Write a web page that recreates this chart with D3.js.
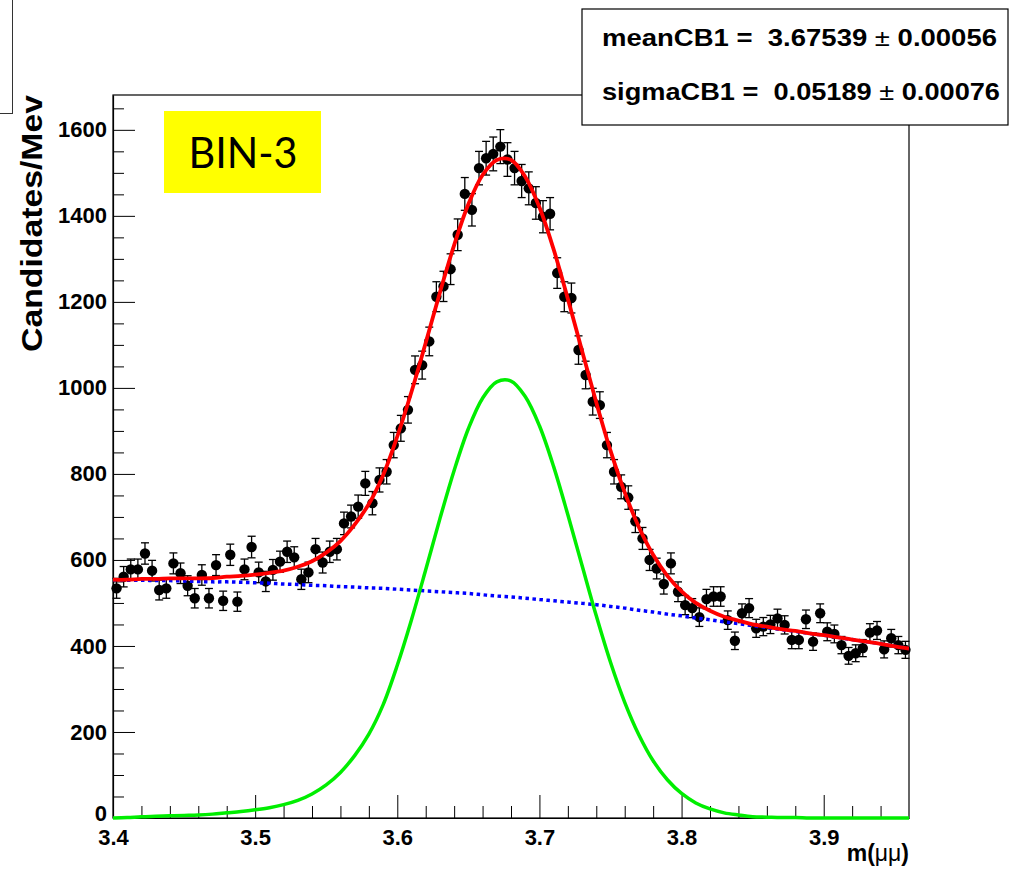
<!DOCTYPE html>
<html>
<head>
<meta charset="utf-8">
<script src="https://cdn.jsdelivr.net/npm/d3@7"></script>
<style>
  body { margin: 0; background: #fff; }
  svg { display: block; }
</style>
</head>
<body>
<svg id="chart" width="1028" height="879"></svg>
<script>
// histogram: 112 bins of 5 MeV, 3.40 .. 3.96
const binLow = 3.40;
const binWidth = 0.005;
const counts = [
  534, 561, 578, 578, 615, 575, 530, 534, 592, 569,
  540, 511, 565, 511, 588, 505, 612, 503, 578, 630,
  571, 550, 577, 596, 619, 606, 555, 571, 625, 594,
  619, 625, 685, 701, 724, 778, 732, 786, 805, 867,
  906, 949, 1042, 1053, 1108, 1212, 1236, 1276, 1356, 1451,
  1414, 1511, 1534, 1544, 1561, 1531, 1511, 1481, 1464, 1430,
  1398, 1405, 1267, 1212, 1209, 1088, 1030, 968, 960, 867,
  805, 770, 745, 690, 650, 600, 580, 544, 592, 526,
  495, 488, 467, 509, 515, 515, 460, 412, 476, 488,
  441, 445, 450, 464, 449, 414, 414, 462, 410, 476,
  433, 428, 402, 377, 383, 395, 431, 436, 392, 418,
  402, 391
];

// fit curves every 0.01 from 3.40 to 3.96
const curveStart = 3.40;
const curveStep = 0.01;
const totalFit = [
  554, 554, 556, 556, 557, 557, 557, 558, 561, 563,
  566, 570, 575, 584, 597, 617, 644, 682, 730, 797,
  887, 991, 1105, 1222, 1332, 1427, 1495, 1530, 1530, 1491,
  1420, 1322, 1207, 1086, 966, 854, 757, 676, 612, 563,
  527, 500, 482, 468, 459, 450, 445, 439, 435, 429,
  425, 420, 415, 410, 405, 399, 394
];
const signalFit = [
  0, 1, 3, 4, 5, 6, 7, 9, 12, 15,
  19, 24, 31, 41, 56, 77, 106, 145, 195, 263,
  355, 461, 577, 696, 808, 905, 976, 1014, 1016, 980,
  912, 817, 705, 587, 470, 362, 269, 193, 133, 89,
  57, 35, 21, 12, 7, 3, 2, 1, 1, 0,
  0, 0, 0, 0, 0, 0, 0
];
const bkgFit = [
  554, 553, 553, 552, 552, 551, 550, 549, 549, 548,
  547, 546, 544, 543, 541, 540, 538, 537, 535, 534,
  532, 530, 528, 526, 524, 522, 519, 516, 514, 511,
  508, 505, 502, 499, 496, 492, 488, 483, 479, 474,
  470, 465, 461, 456, 452, 447, 443, 438, 434, 429,
  425, 420, 415, 410, 405, 399, 394
];

const xTicks = [3.4, 3.5, 3.6, 3.7, 3.8, 3.9];
const yTicks = [0, 200, 400, 600, 800, 1000, 1200, 1400, 1600];
const statNames = ["meanCB1 =  ", "sigmaCB1 =  "];
const statValues = ["3.67539", "0.05189"];
const statErrors = ["0.00056", "0.00076"];

const svg = d3.select("#chart");
const frame = { left: 113, right: 909, top: 95, bottom: 818 };
const font = "'Liberation Sans', Arial, Helvetica, sans-serif";

const x = d3.scaleLinear().domain([3.40, 3.96]).range([frame.left, frame.right]);
const y = d3.scaleLinear().domain([0, 1681]).range([frame.bottom, frame.top]);

// cut-off pad in the top-left corner
svg.append("rect")
  .attr("x", -5).attr("y", -5).attr("width", 17.5).attr("height", 118.5)
  .attr("fill", "none").attr("stroke", "#333").attr("stroke-width", 1);

// frame
svg.append("rect")
  .attr("x", frame.left).attr("y", frame.top)
  .attr("width", frame.right - frame.left).attr("height", frame.bottom - frame.top)
  .attr("fill", "none").attr("stroke", "#000").attr("stroke-width", 1.2);

// y axis: major + minor ticks pointing inside
const yMinor = d3.range(0, 1681, 50).filter((v) => v % 200 !== 0);
svg.append("g")
  .attr("transform", `translate(${frame.left},0)`)
  .call(d3.axisLeft(y).tickValues(yMinor).tickSizeInner(-11).tickSizeOuter(0).tickFormat(""))
  .call((g) => g.select(".domain").remove());
const yAxis = svg.append("g")
  .attr("transform", `translate(${frame.left},0)`)
  .call(d3.axisLeft(y).tickValues(yTicks).tickSizeInner(-22).tickSizeOuter(0)
    .tickPadding(6).tickFormat(d3.format("d")));
yAxis.select(".domain").attr("stroke-width", 1.2);
yAxis.selectAll("text")
  .style("font-family", font).style("font-weight", "bold").style("font-size", "22px")
  .attr("fill", "#000");
// the zero label sits a little high, as in the original
yAxis.selectAll("text").filter((d) => d === 0).attr("dy", "0.1em");

// x axis
const xMinor = d3.range(0, 28).map((i) => 3.40 + 0.02 * i).filter((v, i) => i % 5 !== 0);
svg.append("g")
  .attr("transform", `translate(0,${frame.bottom})`)
  .call(d3.axisBottom(x).tickValues(xMinor).tickSizeInner(-12).tickSizeOuter(0).tickFormat(""))
  .call((g) => g.select(".domain").remove());
const xAxis = svg.append("g")
  .attr("transform", `translate(0,${frame.bottom})`)
  .call(d3.axisBottom(x).tickValues(xTicks).tickSizeInner(-23).tickSizeOuter(0)
    .tickPadding(6).tickFormat(d3.format(".1f")));
xAxis.select(".domain").attr("stroke-width", 1.2);
xAxis.selectAll("text")
  .style("font-family", font).style("font-weight", "bold").style("font-size", "22px")
  .attr("fill", "#000").attr("dy", "0.95em");

// axis titles
svg.append("text")
  .attr("transform", `translate(42,${frame.top}) rotate(-90)`)
  .attr("text-anchor", "end")
  .attr("textLength", 257).attr("lengthAdjust", "spacingAndGlyphs")
  .style("font-family", font).style("font-weight", "bold").style("font-size", "30px")
  .text("Candidates/Mev");

const xt = svg.append("text")
  .attr("x", frame.right).attr("y", 861)
  .attr("text-anchor", "end")
  .style("font-family", font).style("font-size", "23px");
xt.append("tspan").style("font-weight", "bold").text("m(");
xt.append("tspan").text("μμ");
xt.append("tspan").style("font-weight", "bold").text(")");

// data points with error bars
const bins = counts.map((c, i) => ({ x: binLow + binWidth * (i + 0.5), n: c, e: Math.sqrt(c) }));
const pts = svg.append("g");
pts.selectAll("line.bar").data(bins).join("line")
  .attr("class", "bar")
  .attr("x1", (d) => x(d.x)).attr("x2", (d) => x(d.x))
  .attr("y1", (d) => y(d.n - d.e)).attr("y2", (d) => y(d.n + d.e))
  .attr("stroke", "#000").attr("stroke-width", 1.3);
[-1, 1].forEach((s) => {
  pts.selectAll("line.cap" + (s + 1)).data(bins).join("line")
    .attr("class", "cap" + (s + 1))
    .attr("x1", (d) => x(d.x) - 4).attr("x2", (d) => x(d.x) + 4)
    .attr("y1", (d) => y(d.n + s * d.e)).attr("y2", (d) => y(d.n + s * d.e))
    .attr("stroke", "#000").attr("stroke-width", 1.3);
});
pts.selectAll("circle").data(bins).join("circle")
  .attr("cx", (d) => x(d.x)).attr("cy", (d) => y(d.n)).attr("r", 5.2)
  .attr("fill", "#000");

// fit curves
svg.append("clipPath").attr("id", "frameClip")
  .append("rect").attr("x", frame.left).attr("y", frame.top - 2)
  .attr("width", frame.right - frame.left).attr("height", frame.bottom - frame.top + 4);
const line = d3.line()
  .x((d, i) => x(curveStart + curveStep * i))
  .y((d) => y(d))
  .curve(d3.curveCatmullRom);
const curves = svg.append("g").attr("clip-path", "url(#frameClip)");
curves.append("path").attr("d", line(bkgFit))
  .attr("fill", "none").attr("stroke", "#0000ff").attr("stroke-width", 3.5)
  .attr("stroke-dasharray", "3.5,3.5");
curves.append("path").attr("d", line(signalFit))
  .attr("fill", "none").attr("stroke", "#00ee00").attr("stroke-width", 3.5);
curves.append("path").attr("d", line(totalFit))
  .attr("fill", "none").attr("stroke", "#ff0000").attr("stroke-width", 3.8);

// label box
svg.append("rect")
  .attr("x", 164).attr("y", 111).attr("width", 157).attr("height", 82)
  .attr("fill", "#ffff00");
svg.append("text")
  .attr("x", 243).attr("y", 168).attr("text-anchor", "middle")
  .attr("textLength", 109).attr("lengthAdjust", "spacingAndGlyphs")
  .style("font-family", "Lato, 'Open Sans', sans-serif").style("font-size", "43px")
  .text("BIN-3");

// fit parameter box
svg.append("rect")
  .attr("x", 582).attr("y", 9).attr("width", 426).attr("height", 116)
  .attr("fill", "#fff").attr("stroke", "#000").attr("stroke-width", 1.2);
const statLen = [395, 398];
statNames.forEach((name, i) => {
  const t = svg.append("text")
    .attr("x", 602).attr("y", 46 + i * 54)
    .attr("textLength", statLen[i]).attr("lengthAdjust", "spacingAndGlyphs")
    .style("white-space", "pre")
    .style("font-family", font).style("font-size", "23px").style("font-weight", "bold");
  t.append("tspan").text(name + statValues[i] + " ");
  t.append("tspan").style("font-weight", "normal").text("±");
  t.append("tspan").text(" " + statErrors[i]);
});
</script>
</body>
</html>
